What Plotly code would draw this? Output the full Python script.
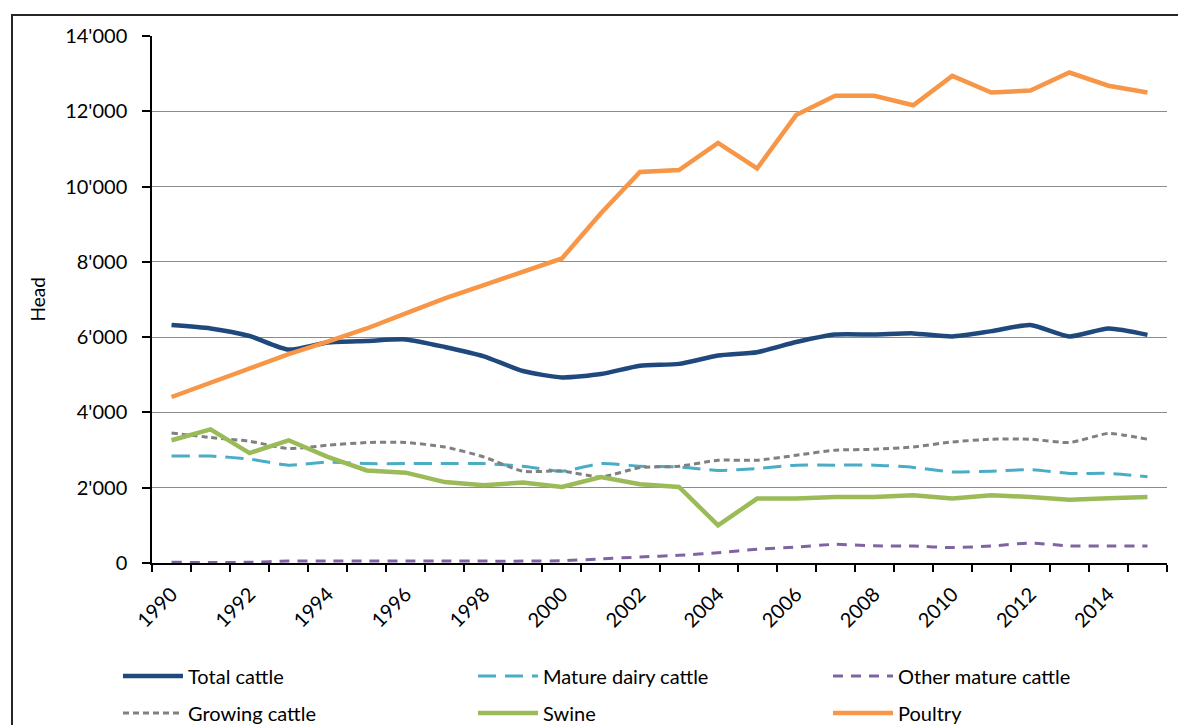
import plotly.graph_objects as go

years = [str(y) for y in range(1990, 2016)]
tick_labels = [y if int(y) % 2 == 0 else "" for y in years]

total_cattle = [6320, 6230, 6030, 5670, 5860, 5900, 5940, 5740, 5490, 5100, 4930, 5020, 5240,
                5290, 5510, 5600, 5870, 6070, 6070, 6100, 6020, 6160, 6320, 6020, 6230, 6060]
mature_dairy = [2840, 2840, 2760, 2600, 2680, 2640, 2640, 2640, 2640, 2570, 2440, 2640, 2570,
                2550, 2460, 2510, 2600, 2600, 2600, 2540, 2420, 2440, 2480, 2380, 2380, 2290]
other_mature = [20, 10, 20, 50, 50, 50, 50, 50, 50, 50, 60, 110, 160,
                205, 275, 365, 425, 495, 455, 450, 410, 450, 530, 455, 450, 450]
growing_cattle = [3455, 3333, 3235, 3040, 3128, 3200, 3200, 3083, 2817, 2437, 2445, 2286, 2535,
                  2570, 2730, 2730, 2862, 2996, 3022, 3083, 3216, 3288, 3288, 3200, 3439, 3288]
swine = [3260, 3550, 2920, 3260, 2820, 2460, 2400, 2150, 2065, 2136, 2020, 2286, 2092,
         2020, 1000, 1712, 1712, 1754, 1754, 1800, 1712, 1800, 1754, 1680, 1720, 1754]
poultry = [4410, 4790, 5160, 5550, 5880, 6230, 6630, 7030, 7380, 7735, 8090, 9290, 10390,
           10440, 11160, 10480, 11900, 12410, 12410, 12160, 12940, 12500, 12550, 13030, 12680, 12500]

y_ticks = [0, 2000, 4000, 6000, 8000, 10000, 12000, 14000]
y_tick_text = ["0", "2'000", "4'000", "6'000", "8'000", "10'000", "12'000", "14'000"]
y_title = "Head"

FONT = "Lato, 'Liberation Sans', sans-serif"

series = [
    ("Total cattle", total_cattle, "#1F497D", 4.5, "solid", "spline", "legend"),
    ("Mature dairy cattle", mature_dairy, "#4BACC6", 3, "18px,9px", "spline", "legend"),
    ("Other mature cattle", other_mature, "#8064A2", 3, "10px,8px", "spline", "legend"),
    ("Growing cattle", growing_cattle, "#808080", 3, "6px,4px", "spline", "legend2"),
    ("Swine", swine, "#9BBB59", 4.5, "solid", "linear", "legend2"),
    ("Poultry", poultry, "#F79646", 4.5, "solid", "linear", "legend2"),
]

fig = go.Figure()
for name, vals, color, w, dash, shape, leg in series:
    line = dict(color=color, width=w, dash=dash, shape=shape)
    if shape == "spline":
        line["smoothing"] = 0.6
    fig.add_trace(go.Scatter(x=years, y=vals, name=name, mode="lines", line=line,
                             legend=leg, hoverinfo="x+y+name"))

W, H = 1178, 725
L, R, T, B = 152, 11, 36, 162
pw, ph = W - L - R, H - T - B


def px(x):
    return (x - L) / pw


def py(y):
    return (H - B - y) / ph


legend_common = dict(orientation="h", xanchor="left", yanchor="middle",
                     font=dict(family=FONT, size=20, color="#000000"),
                     entrywidth=280, entrywidthmode="pixels", itemwidth=60,
                     bgcolor="rgba(0,0,0,0)", itemclick=False, itemdoubleclick=False)

fig.update_layout(
    width=W, height=H,
    margin=dict(l=L, r=R, t=T, b=B, autoexpand=False),
    paper_bgcolor="white", plot_bgcolor="white",
    font=dict(family=FONT, size=20, color="#000000"),
    showlegend=True,
    legend=dict(x=px(118), y=py(676), **legend_common),
    legend2=dict(x=px(118), y=py(713), **legend_common),
    xaxis=dict(
        type="category", tickvals=years, ticktext=tick_labels, tickangle=-45,
        tickson="boundaries", ticks="outside", ticklen=7, tickwidth=1.5, tickcolor="#000000",
        showline=True, linecolor="#000000", linewidth=1.5, showgrid=False, automargin=False,
        range=[-0.5, len(years) - 0.5], tickfont=dict(family=FONT, size=20),
        ticklabelstandoff=10,
    ),
    yaxis=dict(
        range=[0, 14000], tickvals=y_ticks, ticktext=y_tick_text,
        ticks="outside", ticklen=8, tickwidth=1.5, tickcolor="#000000",
        showline=True, linecolor="#000000", linewidth=1.5, automargin=False,
        showgrid=True, gridcolor="#8C8C8C", gridwidth=1, zeroline=False,
        tickfont=dict(family=FONT, size=20), ticklabelstandoff=11,
    ),
    annotations=[dict(text=y_title, xref="paper", yref="paper", x=px(37), y=0.5,
                      textangle=-90, showarrow=False, xanchor="center", yanchor="middle",
                      font=dict(family=FONT, size=19, color="#000000"))],
    shapes=[dict(type="rect", xref="paper", yref="paper",
                 x0=px(12), x1=px(W + 5), y0=py(H + 5), y1=py(15),
                 line=dict(color="#262626", width=2), fillcolor="rgba(0,0,0,0)", layer="below")],
)

fig.write_html(
    "out.html",
    config={"displayModeBar": False},
    post_script="document.body.style.margin='0';document.body.style.overflow='hidden';",
)
